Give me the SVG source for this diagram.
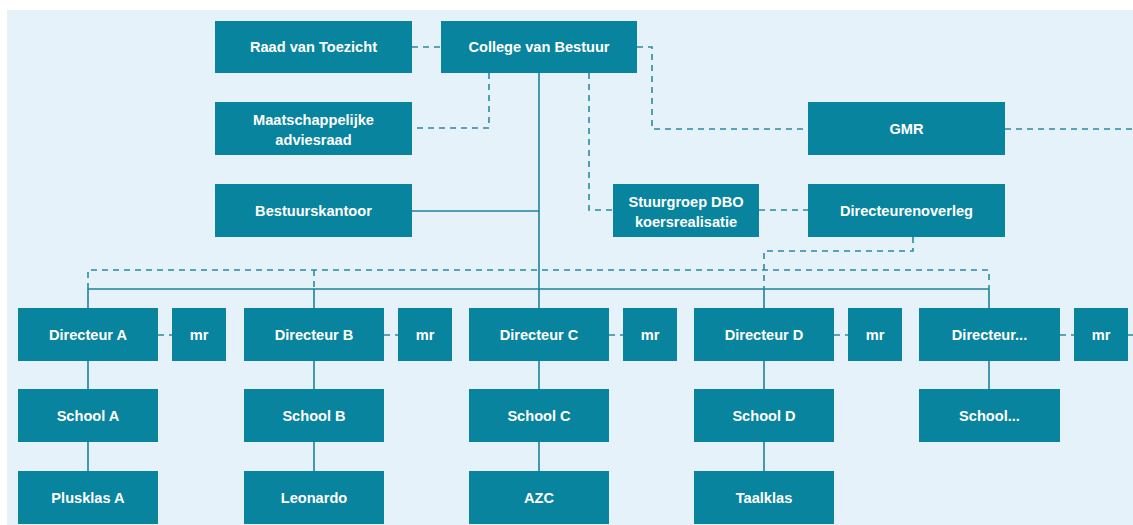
<svg xmlns="http://www.w3.org/2000/svg" width="1133" height="525" viewBox="0 0 1133 525">
<style>
.box{fill:#08849e;}
.t{fill:#ffffff;font-family:"Liberation Sans",Arial,sans-serif;font-weight:bold;font-size:14.6px;text-anchor:middle;}
.s{fill:none;stroke:#1f8299;stroke-width:1.6;}
.d{fill:none;stroke:#2a8aa0;stroke-width:1.6;stroke-dasharray:6 5;}
</style>
<rect x="0" y="0" width="1133" height="525" fill="#ffffff"/>
<rect x="7" y="10" width="1126" height="515" fill="#e6f2fa"/>
<g id="connectors">
<path class="s" d="M539,73 V289 M412,211 H539 M88,289 H989 M88,289 V308 M314,289 V308 M539,289 V308 M764,289 V308 M989,289 V308"/>
<path class="s" d="M88,361 V389 M88,442 V471 M314,361 V389 M314,442 V471 M539,361 V389 M539,442 V471 M764,361 V389 M764,442 V471 M989,361 V389"/>
<path class="d" d="M412,47 H441"/>
<path class="d" d="M489,73 V128 H412"/>
<path class="d" d="M589,73 V210 H613"/>
<path class="d" d="M637,47 H652 V129 H808"/>
<path class="d" d="M1005,129 H1133"/>
<path class="d" d="M759,210 H808"/>
<path class="d" d="M913,237 V251 H764 V289"/>
<path class="d" d="M88,289 V270 H989 V289 M314,270 V289"/>
<path class="d" d="M158,335 H172 M384,335 H398 M609,335 H623 M834,335 H848 M1060,335 H1074 M1128,335 H1133"/>
</g>
<g id="raad"><rect class="box" x="215" y="21" width="197" height="52"/><text class="t" x="313.5" y="52">Raad van Toezicht</text></g>
<g id="cvb"><rect class="box" x="441" y="21" width="196" height="52"/><text class="t" x="539" y="52">College van Bestuur</text></g>
<g id="mar"><rect class="box" x="215" y="102" width="197" height="53"/><text class="t" x="313.5" y="125">Maatschappelijke</text><text class="t" x="313.5" y="145">adviesraad</text></g>
<g id="bk"><rect class="box" x="215" y="184" width="197" height="53"/><text class="t" x="313.5" y="216">Bestuurskantoor</text></g>
<g id="gmr"><rect class="box" x="808" y="102" width="197" height="53"/><text class="t" x="906.5" y="134">GMR</text></g>
<g id="stuurgroep"><rect class="box" x="613" y="184" width="146" height="53"/><text class="t" x="686" y="207">Stuurgroep DBO</text><text class="t" x="686" y="227">koersrealisatie</text></g>
<g id="do"><rect class="box" x="808" y="184" width="197" height="53"/><text class="t" x="906.5" y="216">Directeurenoverleg</text></g>
<g id="dirA"><rect class="box" x="18" y="308" width="140" height="53"/><text class="t" x="88" y="340">Directeur A</text></g>
<g id="mrA"><rect class="box" x="172" y="308" width="54" height="53"/><text class="t" x="199" y="340">mr</text></g>
<g id="dirB"><rect class="box" x="244" y="308" width="140" height="53"/><text class="t" x="314" y="340">Directeur B</text></g>
<g id="mrB"><rect class="box" x="398" y="308" width="54" height="53"/><text class="t" x="425" y="340">mr</text></g>
<g id="dirC"><rect class="box" x="469" y="308" width="140" height="53"/><text class="t" x="539" y="340">Directeur C</text></g>
<g id="mrC"><rect class="box" x="623" y="308" width="54" height="53"/><text class="t" x="650" y="340">mr</text></g>
<g id="dirD"><rect class="box" x="694" y="308" width="140" height="53"/><text class="t" x="764" y="340">Directeur D</text></g>
<g id="mrD"><rect class="box" x="848" y="308" width="54" height="53"/><text class="t" x="875" y="340">mr</text></g>
<g id="dirE"><rect class="box" x="919" y="308" width="141" height="53"/><text class="t" x="989.5" y="340">Directeur...</text></g>
<g id="mrE"><rect class="box" x="1074" y="308" width="54" height="53"/><text class="t" x="1101" y="340">mr</text></g>
<g id="schA"><rect class="box" x="18" y="389" width="140" height="53"/><text class="t" x="88" y="421">School A</text></g>
<g id="schB"><rect class="box" x="244" y="389" width="140" height="53"/><text class="t" x="314" y="421">School B</text></g>
<g id="schC"><rect class="box" x="469" y="389" width="140" height="53"/><text class="t" x="539" y="421">School C</text></g>
<g id="schD"><rect class="box" x="694" y="389" width="140" height="53"/><text class="t" x="764" y="421">School D</text></g>
<g id="schE"><rect class="box" x="919" y="389" width="141" height="53"/><text class="t" x="989.5" y="421">School...</text></g>
<g id="plusA"><rect class="box" x="18" y="471" width="140" height="53"/><text class="t" x="88" y="503">Plusklas A</text></g>
<g id="leonardo"><rect class="box" x="244" y="471" width="140" height="53"/><text class="t" x="314" y="503">Leonardo</text></g>
<g id="azc"><rect class="box" x="469" y="471" width="140" height="53"/><text class="t" x="539" y="503">AZC</text></g>
<g id="taalklas"><rect class="box" x="694" y="471" width="140" height="53"/><text class="t" x="764" y="503">Taalklas</text></g>
</svg>
